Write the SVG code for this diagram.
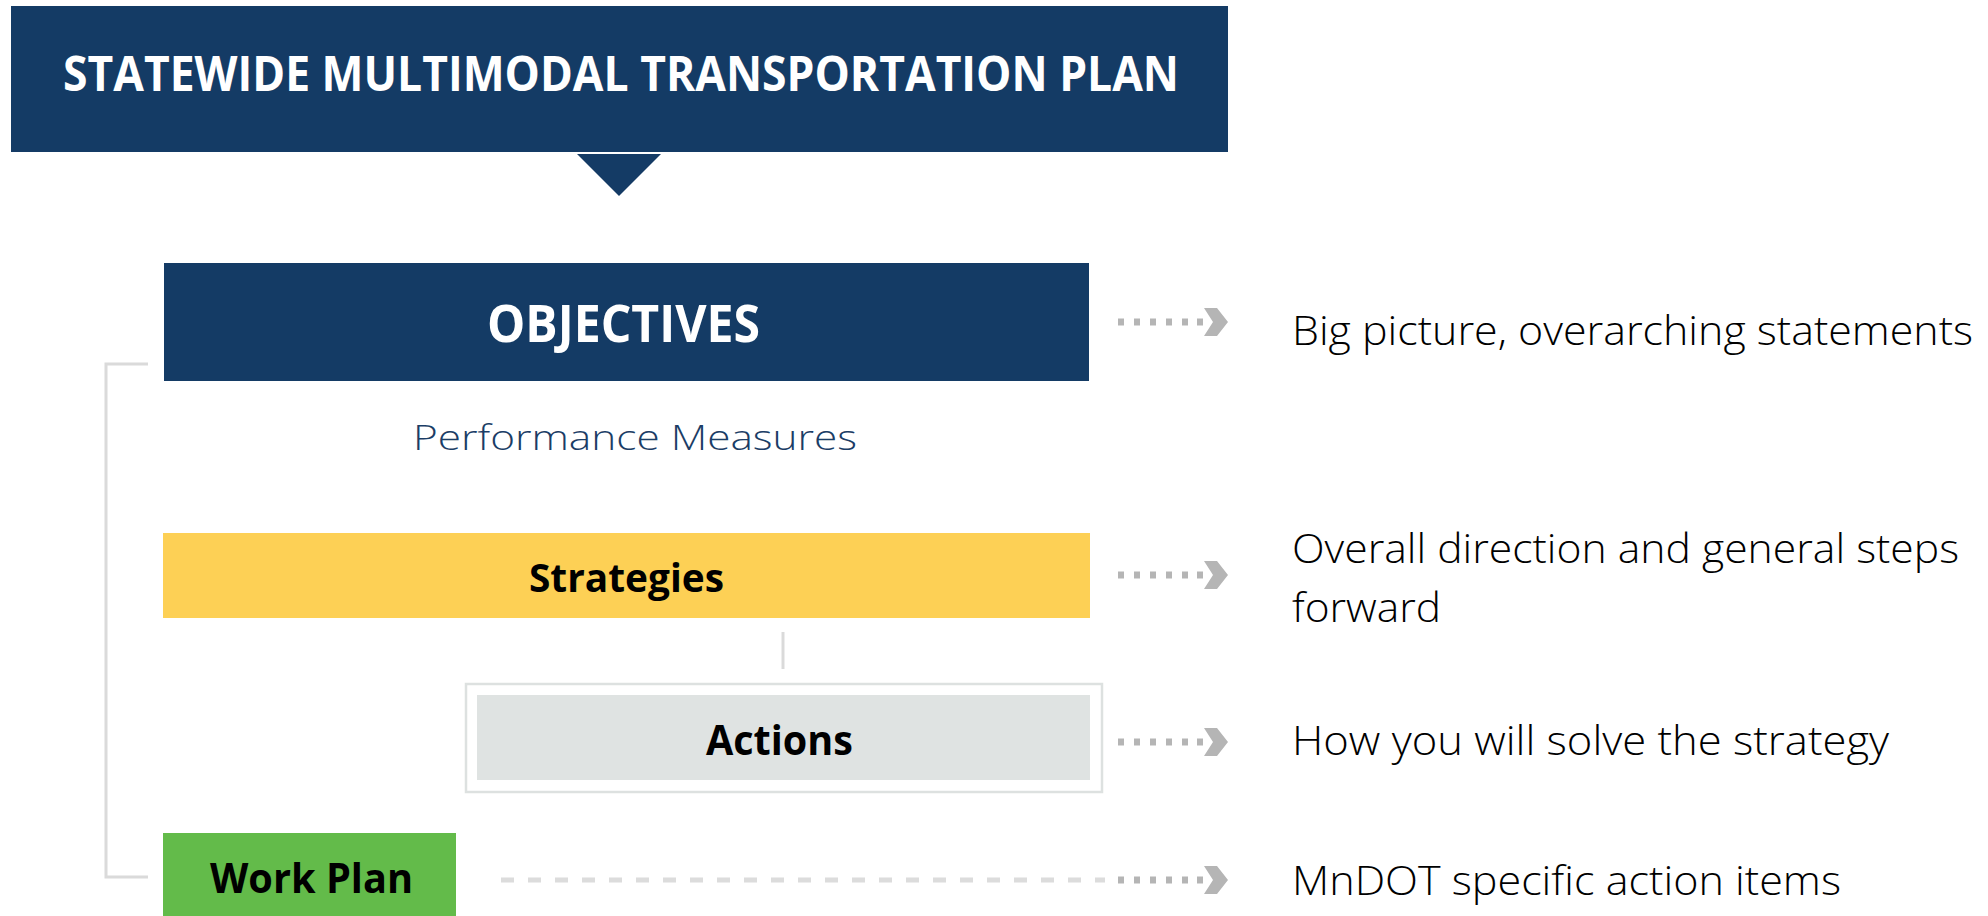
<svg xmlns="http://www.w3.org/2000/svg" width="1988" height="916" viewBox="0 0 1988 916">
<style>
.navy{fill:#143b65}
.hd{font-family:"Open Sans","Liberation Sans",sans-serif;font-weight:bold}
.lbl{font-family:"Open Sans","Liberation Sans",sans-serif;font-weight:300;fill:#000}
.dot{fill:#b5b5b5}
.ln{stroke:#dadada;stroke-width:3;fill:none}
</style>
<defs>
<g id="arr">
<rect x="0" y="-3.5" width="6" height="7" class="dot"/>
<rect x="16" y="-3.5" width="6" height="7" class="dot"/>
<rect x="32" y="-3.5" width="6" height="7" class="dot"/>
<rect x="48" y="-3.5" width="6" height="7" class="dot"/>
<rect x="64" y="-3.5" width="6" height="7" class="dot"/>
<rect x="79" y="-3.5" width="6" height="7" class="dot"/>
<polygon points="86,-14 99,-14 110,0 99,14 86,14 95,0" class="dot"/>
</g>
</defs>
<rect width="1988" height="916" fill="#fff"/>
<g id="title">
<rect x="11" y="6" width="1217" height="146" class="navy"/>
<polygon points="577,154 661,154 619,196" class="navy"/>
<text x="63" y="91" class="hd" font-size="48" fill="#fff" textLength="1116" lengthAdjust="spacingAndGlyphs">STATEWIDE MULTIMODAL TRANSPORTATION PLAN</text>
</g>
<g id="connectors">
<path d="M148,364 H106 V877 H148" class="ln"/>
<line x1="783" y1="632" x2="783" y2="669" class="ln"/>
<line x1="501" y1="880" x2="1105" y2="880" stroke="#dcdcdc" stroke-width="5" stroke-dasharray="13 14"/>
<use href="#arr" x="1118" y="322"/>
<use href="#arr" x="1118" y="575"/>
<use href="#arr" x="1118" y="742"/>
<use href="#arr" x="1118" y="880"/>
</g>
<g id="objectives">
<rect x="164" y="263" width="925" height="118" class="navy"/>
<text x="487" y="342" class="hd" font-size="52" fill="#fff" textLength="273" lengthAdjust="spacingAndGlyphs">OBJECTIVES</text>
</g>
<g id="performance">
<text x="413" y="450" font-family="Open Sans, Liberation Sans, sans-serif" font-weight="300" font-size="35" fill="#1b3d66" textLength="444" lengthAdjust="spacingAndGlyphs">Performance Measures</text>
</g>
<g id="strategies">
<rect x="163" y="533" width="927" height="85" fill="#fdd055"/>
<text x="529" y="592" class="hd" font-size="40" fill="#000" textLength="195" lengthAdjust="spacingAndGlyphs">Strategies</text>
</g>
<g id="actions">
<rect x="466" y="684" width="636" height="108" fill="#fff" stroke="#dde1e0" stroke-width="2.5"/>
<rect x="477" y="695" width="613" height="85" fill="#dfe3e2"/>
<text x="706" y="755" class="hd" font-size="42" fill="#000" textLength="147" lengthAdjust="spacingAndGlyphs">Actions</text>
</g>
<g id="workplan">
<rect x="163" y="833" width="293" height="83" fill="#63bb4a"/>
<text x="210" y="893" class="hd" font-size="42" fill="#000" textLength="203" lengthAdjust="spacingAndGlyphs">Work Plan</text>
</g>
<g id="descriptions">
<text x="1292" y="345" class="lbl" font-size="40" textLength="681" lengthAdjust="spacingAndGlyphs">Big picture, overarching statements</text>
<text x="1292" y="563" class="lbl" font-size="40" textLength="667" lengthAdjust="spacingAndGlyphs">Overall direction and general steps</text>
<text x="1292" y="622" class="lbl" font-size="40" textLength="149" lengthAdjust="spacingAndGlyphs">forward</text>
<text x="1292" y="755" class="lbl" font-size="40" textLength="597" lengthAdjust="spacingAndGlyphs">How you will solve the strategy</text>
<text x="1292" y="895" class="lbl" font-size="40" textLength="549" lengthAdjust="spacingAndGlyphs">MnDOT specific action items</text>
</g>
</svg>
